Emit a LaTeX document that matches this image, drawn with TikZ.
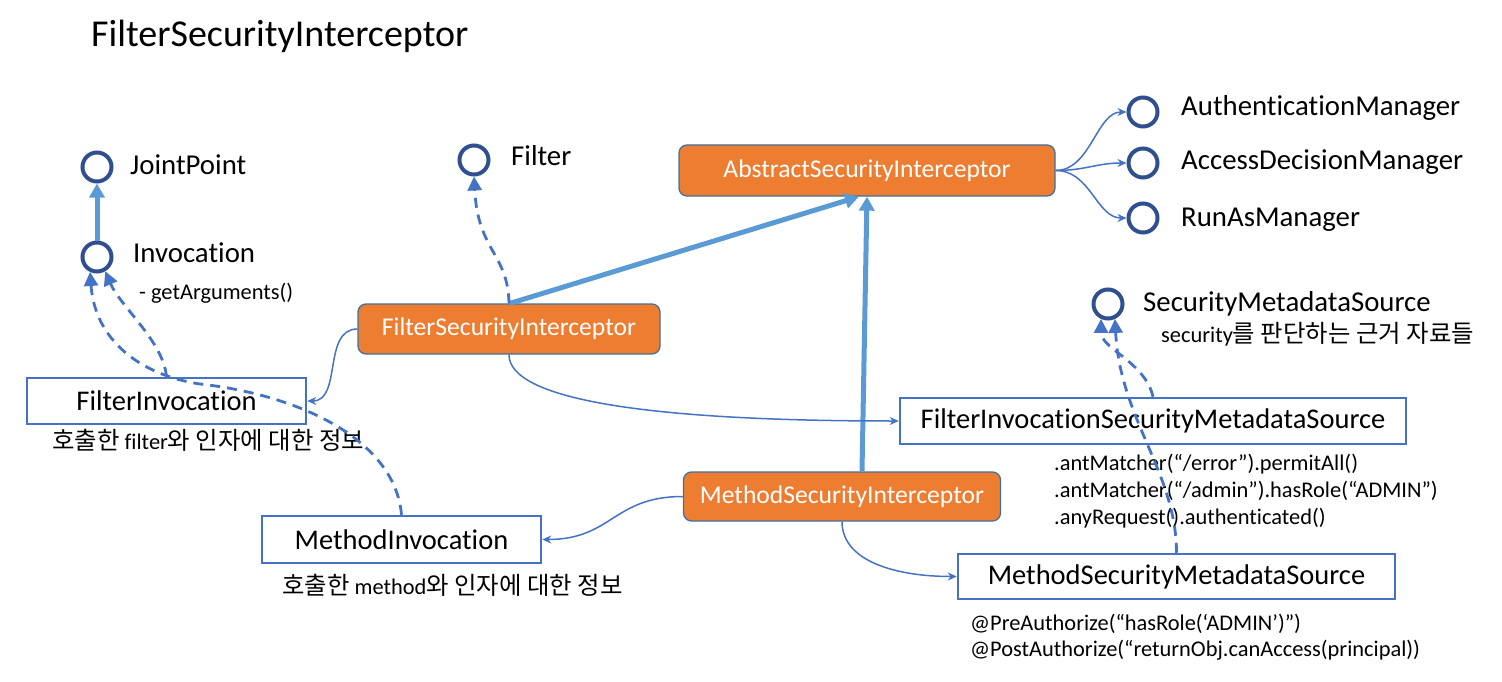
\documentclass[tikz,border=0pt]{standalone}
\usepackage{fontspec}
\setmainfont{Carlito}[Ligatures=NoCommon]
\newfontfamily\kr{Noto Sans CJK KR}[Scale=1.09]
\usetikzlibrary{arrows.meta}
\definecolor{orangefill}{HTML}{ED7D31}
\definecolor{orangeline}{HTML}{41719C}
\definecolor{connblue}{HTML}{4472C4}
\definecolor{thickblue}{HTML}{5B9BD5}
\definecolor{ringblue}{HTML}{2F4F8E}
\begin{document}
\begin{tikzpicture}[x=1pt,y=-1pt,
 iface/.style={circle,draw=ringblue,line width=4pt,minimum size=29pt,inner sep=0pt,outer sep=2pt},
 lbl/.style={anchor=base west,inner sep=0pt,font=\fontsize{28.8}{30}\selectfont},
 small/.style={anchor=base west,inner sep=0pt,font=\fontsize{22.4}{24}\selectfont},
 obox/.style={rectangle,rounded corners=8pt,fill=orangefill,draw=orangeline,line width=1.3pt,text=white,font=\fontsize{25.6}{27}\selectfont,inner sep=0pt},
 wbox/.style={rectangle,draw=connblue,line width=2.5pt,fill=white,font=\fontsize{28.5}{30}\selectfont,inner sep=0pt},
 conn/.style={draw=connblue,line width=1.5pt,-{Stealth[length=9pt,width=8pt]}},
 fat/.style={draw=thickblue,line width=5pt,-{Triangle[length=14pt,width=15pt]}},
 dsh/.style={draw=connblue,line width=2.8pt,dash pattern=on 10pt off 7pt,-{Triangle[length=14pt,width=14pt]}}
]
\useasboundingbox (0,0) rectangle (1502,682);

% title
\node[anchor=base west,inner sep=0pt,font=\fontsize{38}{40}\selectfont] (title) at (91,47) {FilterSecurityInterceptor};

% interfaces
\node[iface] (jp) at (97,167) {};
\node[iface] (inv) at (97,257) {};
\node[iface] (flt) at (474,160) {};
\node[iface] (auth) at (1143,112) {};
\node[iface] (adm) at (1143,163) {};
\node[iface] (ram) at (1143,218) {};
\node[iface] (sms) at (1108,304) {};

\node[lbl] (jpl) at (130,175) {JointPoint};
\node[lbl] (invl) at (133,262) {Invocation};
\node[small] (invs) at (139,299) {- getArguments()};
\node[lbl] (fltl) at (511,165) {Filter};
\node[lbl] (authl) at (1181,116) {AuthenticationManager};
\node[lbl] (adml) at (1181,170) {AccessDecisionManager};
\node[lbl] (raml) at (1181,226) {RunAsManager};
\node[lbl] (smsl) at (1143,311) {SecurityMetadataSource};
\node[small] (smss) at (1161,342) {security{\kr 를 판단하는 근거 자료들}};

% boxes
\node[obox,minimum width=376pt,minimum height=51pt] (asi) at (867,170.5) {AbstractSecurityInterceptor};
\node[obox,minimum width=302pt,minimum height=50pt] (fsi) at (509,329) {FilterSecurityInterceptor};
\node[obox,minimum width=317pt,minimum height=49pt] (msi) at (842,496.5) {MethodSecurityInterceptor};
\node[wbox,minimum width=279pt,minimum height=46pt] (fi) at (166.5,401) {FilterInvocation};
\node[wbox,minimum width=279pt,minimum height=47pt] (mi) at (401.5,539.5) {MethodInvocation};
\node[wbox,minimum width=506pt,minimum height=46pt] (fisms) at (1153,421) {FilterInvocationSecurityMetadataSource};
\node[wbox,minimum width=437pt,minimum height=45pt] (msms) at (1176.5,576.5) {MethodSecurityMetadataSource};

% captions
\node[small] (fic) at (52,449) {{\kr 호출한} filter{\kr 와 인자에 대한 정보}};
\node[small] (mic) at (282,594) {{\kr 호출한} method{\kr 와 인자에 대한 정보}};
\node[small] (r1) at (1054,470) {.antMatcher(“/error”).permitAll()};
\node[small] (r2) at (1054,497) {.antMatcher(“/admin”).hasRole(“ADMIN”)};
\node[small] (r3) at (1054,524) {.anyRequest().authenticated()};
\node[small] (p1) at (970,630) {@PreAuthorize(“hasRole(‘ADMIN’)”)};
\node[small] (p2) at (970,656) {@PostAuthorize(“returnObj.canAccess(principal))};

% thick arrows
\draw[fat] (inv.north) -- (jp.south);
\draw[fat] ([xshift=1pt]fsi.north) -- ([xshift=-8pt]asi.south);
\draw[fat] ([xshift=20pt]msi.north) -- ([xshift=0pt]asi.south);

% thin connectors
\draw[conn] (asi.east) .. controls +(35,0) and +(-30,0) .. (auth.west);
\draw[conn] (asi.east) .. controls +(30,0) and +(-30,0) .. (adm.west);
\draw[conn] (asi.east) .. controls +(35,0) and +(-30,0) .. (ram.west);
\draw[conn] (fsi.west) .. controls +(-35,0) and +(35,0) .. (fi.east);
\draw[conn] (fsi.south) .. controls +(0,45) and +(-250,0) .. (fisms.west);
\draw[conn] (msi.west) .. controls +(-70,0) and +(70,0) .. (mi.east);
\draw[conn] (msi.south) .. controls +(0,40) and +(-60,0) .. (msms.west);

% dashed realisations
\draw[dsh] (fsi.north) .. controls +(-1,-50) and +(4,75) .. (flt.south);
\draw[dsh] (fi.north) .. controls +(-3,-35) and +(15,35) .. (inv.-60);
\draw[dsh] (mi.north) .. controls (395,440) and (300,395) .. (200,384) .. controls (140,375) and (95,340) .. (inv.-115);
\draw[dsh] (fisms.north) .. controls +(-8,-35) and +(0,30) .. (sms.-115);
\draw[dsh] (msms.north) .. controls +(0,-80) and +(5,100) .. (sms.-65);
\end{tikzpicture}
\end{document}
